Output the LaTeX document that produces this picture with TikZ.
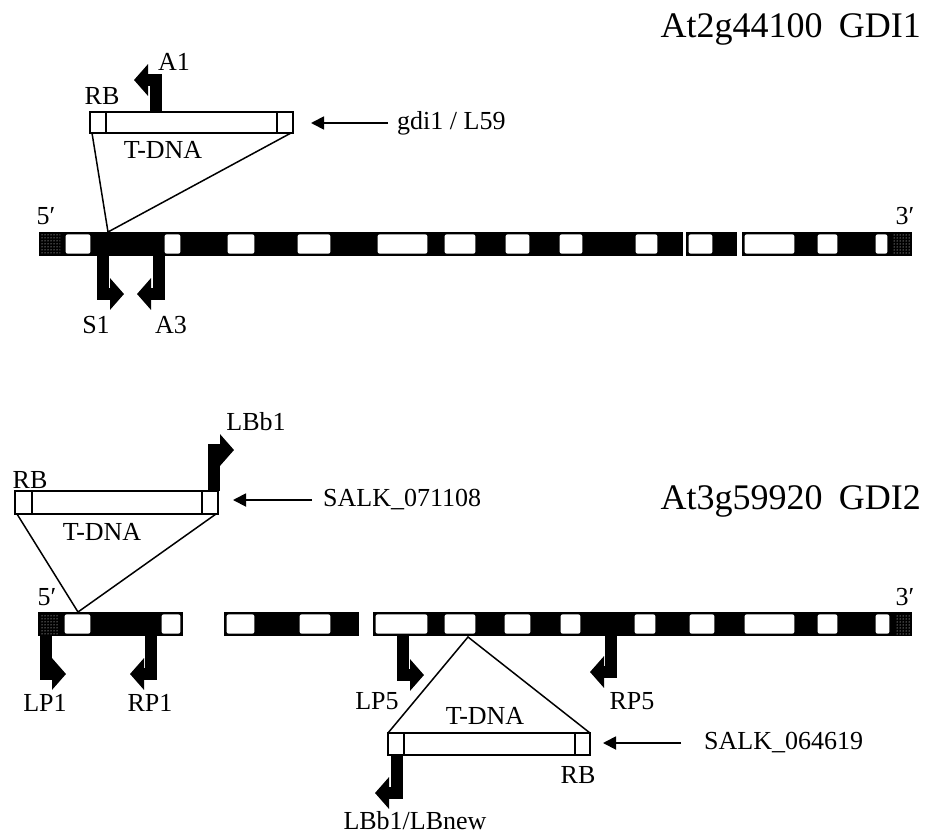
\documentclass[tikz,border=0pt]{standalone}
\usepackage{fontspec}
\setmainfont{Liberation Serif}
\usetikzlibrary{arrows.meta,patterns}
\tikzset{
  lab/.style={font=\fontsize{26}{30}\selectfont, inner sep=0pt},
  ttl/.style={font=\fontsize{36}{40}\selectfont, inner sep=0pt, anchor=base east},
  bent/.style={line width=12.5pt, -{Triangle[length=14pt,width=31pt]}},
  ptr/.style={line width=1.8pt, -{Triangle[length=13pt,width=13pt]}},
  thin/.style={line width=1.5pt},
  tbox/.style={line width=1.8pt, fill=white},
  exon/.style={fill=white, rounded corners=2pt},
  utr/.style={pattern=dots, pattern color=white}
}
\begin{document}
\begin{tikzpicture}[x=1pt,y=-1pt]
\useasboundingbox (0,0) rectangle (927,838);

% ---------------- titles
\node[ttl] (title1) at (921,37) {At2g44100\hspace{0.45em}GDI1};
\node[ttl] (title2) at (921,509) {At3g59920\hspace{0.45em}GDI2};

% ---------------- top gene
\foreach \a/\b in {39/683,686/737,742/912}
  \fill (\a,232) rectangle (\b,256);
\foreach \a/\b in {63/93,162/183,225/257,295/333,375/430,442/478,503/532,557/585,633/660,686/715,742/797,815/840,873/890}
  \fill[exon] (\a+2.6,234.4) rectangle (\b-2.6,253.6);
\fill[utr] (41,234) rectangle (60,254);
\fill[utr] (893,234) rectangle (910,254);
\node[lab] (p5a) at (46,216) {5′};
\node[lab] (p3a) at (905,216) {3′};

% T-DNA top
\draw[tbox] (90,112) rectangle (293,133);
\draw[line width=1.8pt] (106,112) -- (106,133) (277,112) -- (277,133);
\coordinate (t1l) at (92,133);
\coordinate (t1r) at (291,133);
\coordinate (ins1) at (108,232);
\draw[thin] (t1l) -- (ins1) -- (t1r);
\node[lab] (rb1) at (102,96) {RB};
\node[lab] (td1) at (163,150) {T-DNA};

% A1
\coordinate (a1s) at (156,111);
\coordinate (a1t) at (134,80);
\draw[bent] (a1s) |- (a1t);
\node[lab] (a1) at (174,62) {A1};

% S1, A3
\coordinate (s1s) at (103,256);
\coordinate (s1t) at (124,294);
\draw[bent] (s1s) |- (s1t);
\coordinate (a3s) at (159,256);
\coordinate (a3t) at (137,294);
\draw[bent] (a3s) |- (a3t);
\node[lab] (s1) at (96,325) {S1};
\node[lab] (a3) at (171,325) {A3};

% gdi1 / L59
\node[lab, anchor=west] (gdi) at (397,123) {gdi1 / L59};
\coordinate (g1a) at (388,123);
\coordinate (g1b) at (311,123);
\draw[ptr] (g1a) -- (g1b);

% ---------------- bottom gene
\foreach \a/\b in {38/183,224/359,373/912}
  \fill (\a,612) rectangle (\b,636);
\foreach \a/\b in {62/93,159/183,224/257,297/333,373/430,442/478,502/533,558/583,632/658,687/717,742/797,815/840,873/892}
  \fill[exon] (\a+2.6,614.4) rectangle (\b-2.6,633.6);
\fill[utr] (40,614) rectangle (59,634);
\fill[utr] (895,614) rectangle (910,634);
\node[lab] (p5b) at (47,597) {5′};
\node[lab] (p3b) at (905,597) {3′};

% T-DNA bottom left
\draw[tbox] (15,491) rectangle (218,514);
\draw[line width=1.8pt] (32,491) -- (32,514) (202,491) -- (202,514);
\coordinate (t2l) at (17,514);
\coordinate (t2r) at (216,514);
\coordinate (ins2) at (78,612);
\draw[thin] (t2l) -- (ins2) -- (t2r);
\node[lab] (rb2) at (30,480) {RB};
\node[lab] (td2) at (102,532) {T-DNA};

% LBb1
\coordinate (lbs) at (214,491);
\coordinate (lbt) at (234,450);
\draw[bent] (lbs) |- (lbt);
\node[lab] (lbb1) at (256,422) {LBb1};

% SALK_071108
\node[lab, anchor=west] (salk1) at (323,500) {SALK\_071108};
\coordinate (sa1a) at (312,500);
\coordinate (sa1b) at (233,500);
\draw[ptr] (sa1a) -- (sa1b);

% LP1, RP1
\coordinate (lp1s) at (46,636);
\coordinate (lp1t) at (66,674);
\draw[bent] (lp1s) |- (lp1t);
\coordinate (rp1s) at (151,636);
\coordinate (rp1t) at (130,674);
\draw[bent] (rp1s) |- (rp1t);
\node[lab] (lp1) at (45,703) {LP1};
\node[lab] (rp1) at (150,703) {RP1};

% LP5, RP5
\coordinate (lp5s) at (403,636);
\coordinate (lp5t) at (424,675);
\draw[bent] (lp5s) |- (lp5t);
\coordinate (rp5s) at (611,636);
\coordinate (rp5t) at (590,672);
\draw[bent] (rp5s) |- (rp5t);
\node[lab] (lp5) at (377,701) {LP5};
\node[lab] (rp5) at (632,701) {RP5};

% T-DNA bottom right
\draw[tbox] (388,733) rectangle (590,755);
\draw[line width=1.8pt] (404,733) -- (404,755) (575,733) -- (575,755);
\coordinate (t3l) at (388,733);
\coordinate (t3r) at (590,733);
\coordinate (ins3) at (468,637);
\draw[thin] (t3l) -- (ins3) -- (t3r);
\node[lab] (td3) at (485,716) {T-DNA};
\node[lab] (rb3) at (578,775) {RB};

% SALK_064619
\node[lab, anchor=west] (salk2) at (704,743) {SALK\_064619};
\coordinate (sa2a) at (681,743);
\coordinate (sa2b) at (603,743);
\draw[ptr] (sa2a) -- (sa2b);

% LBb1/LBnew
\coordinate (lbns) at (397,756);
\coordinate (lbnt) at (375,793);
\draw[bent] (lbns) |- (lbnt);
\node[lab] (lbnew) at (415,821) {LBb1/LBnew};
\end{tikzpicture}
\end{document}
